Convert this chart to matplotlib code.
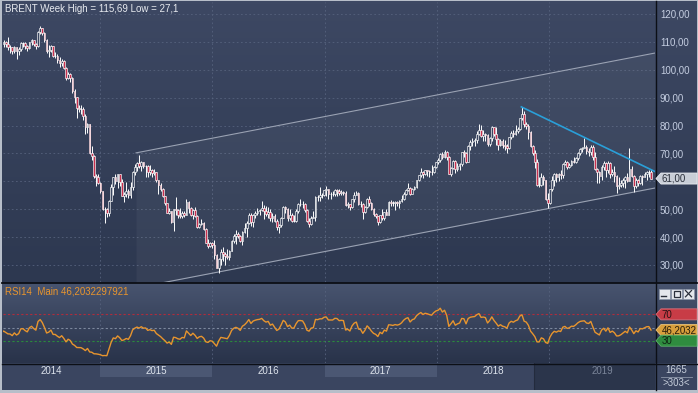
import numpy as np
import pandas as pd
import matplotlib
matplotlib.use("Agg")
import matplotlib.pyplot as plt
from matplotlib.colors import LinearSegmentedColormap
from matplotlib.patches import Polygon, Rectangle
from matplotlib.ticker import FuncFormatter

plt.rcParams["font.family"] = ["Liberation Sans", "DejaVu Sans"]

# weekly Brent bars (Friday closes), first 10 weeks only warm up the RSI
FIRST_WEEK = "2013-10-25"
closes = [
    106.9, 105.9, 105.1, 108.5, 111.0, 110.8, 111.6, 108.8, 111.8, 112.2,  # 2013
    107.9, 107.3, 106.5, 107.9, 106.4, 109.6, 109.1, 110.0, 109.1, 108.1, 108.0, 106.9, 108.1,
    106.7, 107.3, 109.5, 109.6, 108.6, 107.9, 109.8, 110.5, 109.4, 108.6, 113.4, 114.8, 113.3,
    110.6, 106.7, 107.2, 108.4, 105.0, 105.0, 103.5, 102.3, 103.2, 100.8, 97.1, 98.4, 97.0,
    92.3, 90.2, 86.2, 86.1, 85.9, 83.4, 79.4, 80.4, 70.2, 69.1, 61.9, 61.4, 59.5,  # 2014
    56.4, 50.1, 50.2, 48.8, 53.0, 57.8, 61.5, 60.2, 62.6, 59.7, 54.7, 55.3, 56.4,
    55.0, 57.9, 63.5, 65.3, 66.5, 65.4, 66.8, 65.4, 65.6, 63.3, 63.9, 63.0, 63.3,
    60.3, 58.7, 57.1, 54.6, 52.2, 48.6, 49.2, 45.5, 50.1, 49.6, 48.1, 47.5, 48.6,
    48.1, 52.7, 50.5, 48.0, 49.6, 47.4, 43.6, 44.7, 45.0, 43.0, 37.9, 36.9, 37.9,  # 2015
    37.3, 33.6, 28.9, 32.2, 34.7, 34.1, 33.4, 33.0, 35.1, 38.7, 40.4, 41.2, 40.4,
    38.7, 41.9, 43.1, 45.1, 48.1, 45.4, 47.8, 48.7, 49.3, 49.6, 50.5, 49.2, 48.4,
    49.0, 46.8, 47.6, 45.7, 43.5, 44.3, 47.0, 50.9, 49.9, 46.8, 48.0, 45.8, 45.9, 49.2,
    51.9, 52.0, 51.8, 49.7, 45.6, 44.8, 46.9, 47.2, 54.5, 54.3, 55.2, 55.2, 56.8,  # 2016
    57.1, 55.5, 55.5, 55.5, 56.8, 56.7, 55.8, 56.0, 55.9, 51.4, 51.8, 50.8, 53.5,
    55.2, 55.9, 52.0, 51.7, 49.1, 50.8, 53.6, 52.2, 50.0, 48.2, 47.4, 45.5, 47.9,
    46.7, 48.9, 48.1, 52.5, 52.4, 52.1, 52.7, 52.4, 52.8, 53.8, 55.6, 56.9, 57.5,
    55.6, 57.2, 57.8, 60.4, 62.1, 63.5, 62.7, 63.9, 63.7, 63.4, 63.2, 65.3, 66.9,  # 2017
    67.6, 69.9, 68.6, 70.5, 68.6, 62.8, 64.8, 67.3, 64.4, 65.5, 66.2, 70.5, 70.3,
    67.1, 72.6, 74.1, 74.6, 74.9, 77.1, 78.5, 76.4, 76.8, 76.5, 73.4, 75.6, 79.4,
    77.1, 75.3, 73.1, 74.3, 73.2, 72.8, 71.8, 75.8, 77.4, 76.8, 78.1, 78.8, 82.7,
    84.2, 80.4, 79.8, 77.6, 72.8, 70.2, 66.8, 58.8, 58.7, 61.7, 60.3, 53.8, 52.2,  # 2018
    57.1, 60.5, 62.7, 61.6, 62.8, 62.1, 66.3, 67.1, 65.1, 65.7, 67.2, 67.0, 68.4,
    70.3, 71.6, 72.0, 72.2, 70.9, 70.6, 72.2, 68.7, 64.5, 63.3, 62.0, 65.2, 66.6,
    64.2, 66.7, 62.5, 63.5, 61.9, 58.5, 58.6, 59.3, 60.4, 61.5, 60.2, 64.3, 61.9,
    58.4, 60.5, 59.4, 62.0, 61.7, 62.5, 63.3, 63.4, 61.0,  # 2019
]
highs = [
    108.0, 107.5, 106.5, 108.9, 111.3, 112.0, 112.5, 111.9, 112.0, 112.6,
    112.4, 108.4, 107.8, 108.5, 108.4, 109.8, 110.3, 110.7, 110.4, 111.8, 108.8, 108.3, 108.4,
    108.3, 108.1, 110.0, 110.0, 109.9, 108.9, 110.1, 110.9, 110.6, 109.6, 114.0, 115.7, 115.0,
    113.5, 110.9, 108.9, 108.9, 108.5, 106.4, 105.6, 104.5, 103.8, 103.5, 101.0, 99.2, 98.8,
    97.4, 93.0, 90.4, 87.5, 87.5, 86.6, 84.0, 80.9, 80.6, 72.5, 69.5, 62.6, 62.6,
    59.6, 56.5, 50.8, 50.3, 53.3, 59.1, 61.6, 62.6, 62.8, 62.6, 60.7, 56.3, 59.7,
    57.4, 59.7, 63.8, 66.1, 67.1, 69.6, 67.3, 66.9, 65.9, 66.0, 65.7, 64.3, 64.4,
    63.4, 60.6, 59.5, 57.6, 54.9, 52.4, 50.6, 49.5, 50.2, 54.2, 50.1, 50.4, 49.5,
    49.2, 53.7, 53.0, 50.8, 50.1, 50.9, 48.0, 45.0, 46.4, 45.3, 43.4, 39.3, 38.3,
    38.1, 38.9, 34.1, 32.4, 35.8, 36.3, 34.8, 35.6, 35.5, 38.9, 41.0, 42.5, 41.8,
    40.6, 42.2, 45.1, 45.8, 48.5, 48.5, 48.4, 49.3, 50.5, 50.2, 52.9, 51.4, 51.1,
    50.8, 50.2, 48.6, 48.2, 46.4, 44.8, 47.3, 51.2, 51.3, 50.3, 50.1, 48.5, 48.1, 50.0,
    52.4, 53.7, 52.8, 52.1, 49.9, 46.7, 47.5, 49.2, 54.6, 55.1, 57.9, 55.8, 57.0,
    58.4, 57.1, 56.0, 56.4, 57.2, 57.2, 57.1, 56.8, 56.6, 56.5, 52.5, 51.9, 53.7,
    56.1, 56.7, 56.0, 52.9, 52.1, 51.3, 53.9, 54.7, 52.7, 50.5, 48.7, 47.6, 48.1,
    50.0, 49.0, 50.2, 52.9, 53.2, 53.1, 53.1, 53.0, 53.2, 55.2, 56.0, 57.2, 59.5,
    57.9, 57.6, 58.5, 60.5, 62.3, 64.7, 63.7, 64.0, 64.2, 64.2, 65.8, 65.4, 67.1,
    68.3, 70.1, 70.4, 71.3, 70.9, 69.0, 65.1, 67.5, 67.6, 66.5, 66.4, 70.6, 71.2,
    70.6, 72.9, 74.8, 75.5, 75.5, 78.0, 80.5, 80.1, 78.4, 77.3, 77.0, 76.0, 79.8,
    79.6, 79.4, 75.4, 75.1, 75.2, 74.7, 73.3, 76.0, 78.2, 78.3, 80.1, 79.6, 82.8,
    86.7, 85.2, 81.4, 80.4, 77.9, 73.2, 71.2, 67.9, 61.6, 63.0, 62.4, 60.6, 55.9,
    57.3, 62.0, 63.0, 63.0, 63.0, 63.9, 66.4, 67.7, 67.4, 66.6, 67.6, 68.7, 68.7,
    70.5, 71.9, 72.3, 75.6, 73.2, 71.8, 73.2, 73.0, 70.5, 64.9, 63.7, 65.7, 67.2,
    66.8, 67.4, 67.1, 64.4, 65.5, 62.4, 61.5, 60.6, 61.2, 62.0, 63.1, 71.9, 65.5,
    62.3, 61.3, 60.8, 62.3, 62.4, 63.5, 63.6, 64.1, 64.5,
]
lows = [
    106.0, 105.0, 103.6, 104.6, 107.8, 109.5, 110.0, 108.3, 108.5, 110.8,
    107.0, 105.6, 105.5, 106.3, 105.8, 105.4, 108.0, 108.3, 108.2, 107.2, 105.9, 105.6, 105.9,
    103.8, 105.3, 106.9, 108.1, 107.5, 106.9, 107.4, 109.0, 108.6, 107.6, 108.3, 112.7, 112.4,
    110.1, 106.0, 104.6, 106.3, 104.5, 104.3, 102.5, 101.1, 101.5, 100.3, 96.2, 96.7, 95.6,
    91.6, 88.1, 82.6, 84.9, 84.1, 82.1, 76.8, 77.4, 69.8, 67.5, 61.2, 58.5, 59.2,
    55.7, 49.7, 45.2, 47.2, 47.4, 52.9, 55.2, 58.9, 57.7, 58.4, 54.6, 52.5, 54.5,
    54.1, 54.0, 56.9, 62.2, 63.8, 64.9, 63.6, 64.6, 61.6, 61.5, 62.2, 61.6, 62.2,
    59.9, 55.6, 56.6, 54.5, 51.6, 48.5, 48.2, 45.2, 42.2, 47.9, 46.9, 46.8, 47.0,
    47.1, 48.0, 48.6, 47.7, 46.6, 47.2, 43.3, 43.2, 44.3, 42.5, 37.8, 36.0, 36.4,
    36.1, 32.2, 28.8, 27.1, 30.0, 31.6, 30.1, 32.1, 31.8, 35.0, 37.8, 37.7, 39.8,
    38.4, 37.3, 41.6, 40.1, 44.7, 43.9, 43.8, 47.0, 47.9, 48.0, 49.5, 46.6, 47.6,
    46.8, 45.9, 45.5, 45.5, 42.5, 41.5, 43.6, 46.7, 48.5, 45.8, 46.0, 45.5, 45.4, 45.3,
    48.8, 51.0, 50.5, 49.1, 45.3, 43.8, 44.3, 46.8, 45.9, 52.8, 53.0, 53.9, 54.9,
    54.8, 53.6, 53.7, 54.6, 54.6, 54.9, 55.2, 55.1, 55.1, 51.1, 50.3, 49.7, 50.4,
    52.6, 55.2, 51.6, 50.7, 46.6, 48.6, 50.5, 51.0, 49.7, 47.6, 46.7, 44.4, 45.0,
    46.3, 46.2, 47.8, 47.9, 51.0, 51.3, 49.7, 51.0, 50.6, 52.6, 53.4, 55.0, 56.6,
    55.2, 55.4, 57.0, 57.5, 60.1, 61.7, 61.1, 62.1, 62.0, 61.7, 62.4, 63.0, 64.8,
    66.3, 66.9, 68.1, 68.3, 67.6, 62.5, 61.8, 64.4, 63.1, 63.6, 63.9, 65.6, 68.6,
    66.6, 66.8, 71.3, 72.8, 72.6, 73.6, 76.5, 75.9, 74.5, 74.6, 72.7, 72.8, 74.5,
    76.3, 73.1, 71.2, 72.7, 72.0, 71.2, 70.3, 71.6, 75.3, 75.9, 76.5, 77.2, 78.5,
    82.1, 79.6, 78.8, 75.1, 72.3, 69.5, 64.6, 58.4, 58.1, 58.4, 58.7, 53.3, 50.4,
    52.0, 56.5, 58.5, 59.8, 60.1, 61.0, 61.3, 65.8, 64.3, 64.6, 65.5, 66.5, 66.6,
    67.8, 69.4, 70.5, 71.8, 69.9, 69.0, 69.6, 67.7, 64.2, 59.5, 59.5, 60.3, 64.2,
    61.6, 63.1, 61.1, 61.9, 59.6, 55.9, 57.1, 57.9, 58.0, 57.7, 59.8, 60.0, 61.4,
    56.2, 57.5, 58.3, 58.9, 58.8, 61.4, 60.6, 61.7, 60.8,
]

years = [2014, 2015, 2016, 2017, 2018, 2019]
shaded_years = [2015, 2017]
view_range = ["2014-02-19", "2019-12-12"]
current_start = "2018-11-13"   # dark cell under the current year
price_ticks = [30, 40, 50, 60, 70, 80, 90, 100, 110, 120]
rsi_levels = [70, 50, 30]
last_price = 61.00
rsi_last = 46.2032297921

# drawn objects on the price panel
channel_dates = ["2015-04-28", "2019-12-12"]
channel_upper = [70.2, 106.0]
channel_lower = [21.8, 57.6]
trend_dates = ["2018-10-03", "2019-12-12"]
trend_prices = [86.7, 63.5]

W, H = 698, 393
GRID = dict(color="#56627d", lw=0.6, ls=(0, (2, 3)))


def box(x0, y0, x1, y1):
    # pixel box measured from the top-left corner -> figure fraction rect
    return [x0 / W, 1 - y1 / H, (x1 - x0) / W, (y1 - y0) / H]


def shade(ax, x0, x1, y0, y1, top, bottom):
    cmap = LinearSegmentedColormap.from_list("g", [top, bottom])
    ax.imshow(np.linspace(0, 1, 64).reshape(-1, 1), cmap=cmap, aspect="auto",
              extent=(x0, x1, y1, y0), interpolation="bilinear")


def money(v, pos=None):
    # the tick under the last-price tag is covered in the original
    if abs(v - last_price) < 4:
        return ""
    return f"{v:.2f}".replace(".", ",")


dates = pd.date_range(FIRST_WEEK, periods=len(closes), freq="W-FRI")
c = np.array(closes)
o = np.r_[c[0], c[:-1]]  # weekly bars open near the previous close
hi = np.array(highs)
lo = np.array(lows)

# Wilder RSI(14)
delta = pd.Series(c, index=dates).diff()
gain = delta.clip(lower=0).ewm(alpha=1 / 14, adjust=False).mean()
loss = (-delta.clip(upper=0)).ewm(alpha=1 / 14, adjust=False).mean()
rsi = 100 - 100 / (1 + gain / loss)

view = pd.to_datetime(view_range)
bounds = [pd.Timestamp(f"{y}-01-01") for y in years[1:]]

fig = plt.figure(figsize=(W / 100, H / 100), dpi=100, facecolor="#b7bec9")

# background panels
bg = fig.add_axes([0, 0, 1, 1], zorder=-5)
shade(bg, 2, 697, 1, 283, "#3d4863", "#2d3850")
shade(bg, 2, 697, 283, 363, "#48546f", "#29334a")
bg.add_patch(Rectangle((2, 363), 695, 27, fc="#3a4560", lw=0))
bg.set_xlim(0, W)
bg.set_ylim(H, 0)
bg.axis("off")

# price panel
price = fig.add_axes(box(3, 2, 655, 282))
price.patch.set_visible(False)
price.fill_between(pd.to_datetime(channel_dates), channel_lower, channel_upper,
                   color="white", alpha=0.045, lw=0, zorder=1)
price.plot(pd.to_datetime(channel_dates), channel_upper, color="#9aa2b3", lw=0.8, zorder=2)
price.plot(pd.to_datetime(channel_dates), channel_lower, color="#9aa2b3", lw=0.8, zorder=2)

rising = c >= o
price.vlines(dates, lo, hi, color="white", lw=0.7, zorder=3)
price.bar(dates[rising], (c - o)[rising], bottom=o[rising], width=5.5,
          facecolor="#3a4660", edgecolor="white", lw=0.45, zorder=4)
price.bar(dates[~rising], (c - o)[~rising], bottom=o[~rising], width=5.5,
          facecolor="#c8304e", edgecolor="white", lw=0.45, zorder=4)
price.plot(pd.to_datetime(trend_dates), trend_prices, color="#2a9fd8", lw=1.2, zorder=5)

price.set_xlim(view[0], view[1])
price.set_ylim(23.9, 124.3)
price.set_yticks(price_ticks)
price.yaxis.set_major_formatter(FuncFormatter(money))
price.yaxis.tick_right()
price.tick_params(axis="y", length=0, pad=3.5, labelsize=7, labelcolor="#c4cde0")
price.set_xticks(bounds)
price.tick_params(axis="x", length=0, labelbottom=False)
price.grid(True, **GRID)
price.set_axisbelow(True)
for s in price.spines.values():
    s.set_visible(False)

# RSI panel
rsi_ax = fig.add_axes(box(3, 284, 655, 363))
rsi_ax.patch.set_visible(False)
for lvl, col in zip(rsi_levels, ["#b02c3c", "#7d889e", "#2a8a3c"]):
    rsi_ax.axhline(lvl, color=col, lw=0.8, ls=(0, (2, 2)), zorder=1)
rsi_ax.plot(rsi.index, rsi.values, color="#e8952e", lw=1.0, zorder=3)
rsi_ax.set_xlim(view[0], view[1])
rsi_ax.set_ylim(-3.8, 116)
rsi_ax.set_xticks(bounds)
rsi_ax.set_yticks([])
rsi_ax.tick_params(axis="x", length=0, labelbottom=False)
rsi_ax.grid(True, axis="x", **GRID)
for s in rsi_ax.spines.values():
    s.set_visible(False)

# time strip
tax = fig.add_axes(box(3, 363, 655, 390))
tax.patch.set_visible(False)
tax.set_xlim(view[0], view[1])
tax.set_ylim(0, 1)
for y in shaded_years:
    tax.axvspan(pd.Timestamp(f"{y}-01-01"), pd.Timestamp(f"{y + 1}-01-01"),
                ymin=0.48, ymax=0.96, color="#4b5773", lw=0)
tax.axvspan(pd.Timestamp(current_start), view[1], color="#2b354b", lw=0)
tax.axvline(pd.Timestamp(current_start), color="#232b3d", lw=0.8)
for y in years:
    a = max(view[0], pd.Timestamp(f"{y}-01-01"))
    b = min(view[1], pd.Timestamp(f"{y + 1}-01-01"))
    tax.text(a + (b - a) / 2, 0.70, str(y), ha="center", va="center", fontsize=7,
             color="#7b8599" if y == years[-1] else "#dde3ec")
tax.axis("off")

# overlay: separators, tags, captions
over = fig.add_axes([0, 0, 1, 1], zorder=10)
over.patch.set_visible(False)
over.set_xlim(0, W)
over.set_ylim(H, 0)
over.axis("off")

over.plot([2, 697], [283, 283], color="#0c0f16", lw=1.3)
over.plot([2, 697], [363.5, 363.5], color="#0c0f16", lw=1.0)
over.plot([655.5, 655.5], [1, 390], color="#0c0f16", lw=1.0)


def tag(ax, value, text, face, edge, fg):
    y = H - ax.transData.transform((0, value))[1]
    pts = [(656, y), (661, y - 5.5), (697, y - 5.5), (697, y + 5.5), (661, y + 5.5)]
    over.add_patch(Polygon(pts, closed=True, fc=face, ec=edge, lw=0.6, zorder=5))
    over.text(661.5, y + 0.3, text, color=fg, fontsize=7, va="center", ha="left", zorder=6)


tag(price, last_price, f"{last_price:.2f}".replace(".", ","), "#c9ced7", "#e9ecf1", "#2a2f3a")
tag(rsi_ax, 70, "70", "#c83c46", "#d9707a", "#2a1214")
tag(rsi_ax, rsi_last, f"{rsi_last:.4f}".replace(".", ","), "#d99f3c", "#eac27a", "#2a1e0a")
tag(rsi_ax, 30, "30", "#2f8c3f", "#5cb06a", "#0e2412")

# window buttons of the RSI pane
for x0 in [659, 671, 683]:
    over.add_patch(Rectangle((x0, 289), 11, 9.5, fc="#e4e7ec", ec="#8c96a8", lw=0.5))
over.plot([661, 666], [296, 296], color="#2a2f3a", lw=1.0)
over.add_patch(Rectangle((673.5, 290.8), 6, 5.8, fc="none", ec="#2a2f3a", lw=0.9))
over.plot([685.5, 691.5], [290.5, 296.8], color="#2a2f3a", lw=0.9)
over.plot([685.5, 691.5], [296.8, 290.5], color="#2a2f3a", lw=0.9)

over.text(5, 9, "BRENT Week High = 115,69 Low = 27,1", color="#e8ebf0", fontsize=7, va="center")
over.text(5, 292, "RSI14  Main 46,2032297921", color="#e8952e", fontsize=7, va="center")
over.text(676, 370, "1665", color="#c6cedb", fontsize=7, ha="center", va="center")
over.plot([661, 692], [377, 377], color="#8c96a8", lw=0.6)
over.text(676, 383.5, ">303<", color="#c6cedb", fontsize=7, ha="center", va="center")

fig.savefig("out.png", dpi=100, facecolor=fig.get_facecolor())
